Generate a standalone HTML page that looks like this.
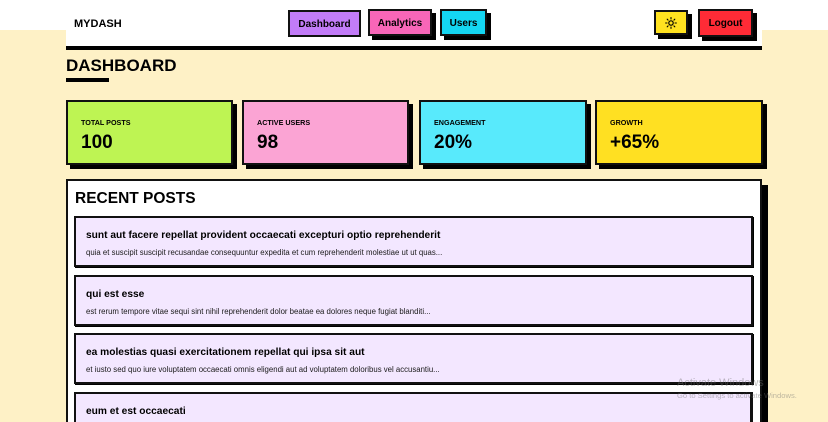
<!DOCTYPE html>
<html>
<head>
<meta charset="utf-8">
<style>
  html,body{margin:0;padding:0;width:828px;height:422px;overflow:hidden;}
  body{background:#fef1c6;font-family:"Liberation Sans",sans-serif;color:#000;}
  #wrap{position:relative;width:828px;height:422px;overflow:hidden;background:#fef1c6;}
  .abs{position:absolute;}
  .topwhite{left:0;top:0;width:828px;height:30px;background:#fff;}
  .header{left:66px;top:0;width:696px;height:46px;background:#fff;}
  .hbar{left:66px;top:46px;width:696px;height:4px;background:#000;}
  .logo{left:74px;top:14px;line-height:20px;font-size:11px;font-weight:bold;}
  .btn{position:absolute;box-sizing:border-box;border:2px solid #111;display:flex;align-items:center;justify-content:center;font-size:10px;font-weight:bold;box-shadow:4px 4px 0 #000;padding-top:1px;}
  .h1{left:66px;top:56px;line-height:20px;font-size:17px;font-weight:bold;}
  .uline{left:66px;top:78px;width:43px;height:4px;background:#000;}
  .stat{position:absolute;top:100px;height:65px;box-sizing:border-box;border:2px solid #111;box-shadow:4px 4px 0 #000;}
  .stat .lbl{position:absolute;left:13px;top:16px;line-height:10px;font-size:7.2px;font-weight:bold;}
  .stat .val{position:absolute;left:13px;top:30px;line-height:22px;font-size:19px;font-weight:bold;}
  .panel{left:66px;top:179px;width:696px;height:243px;box-sizing:border-box;border:2px solid #111;border-bottom:none;background:#fff;}
  .pshadow{left:762px;top:185px;width:6px;height:237px;background:#000;}
  .h2{left:75px;top:189px;line-height:20px;font-size:15.5px;font-weight:bold;}
  .post{position:absolute;left:74px;width:679px;height:51px;box-sizing:border-box;border:2px solid #111;background:#f3e7ff;box-shadow:1px 1px 0 #000;}
  .post .t{position:absolute;left:10px;top:8px;line-height:20px;font-size:10.2px;font-weight:bold;white-space:nowrap;}
  .post .b{position:absolute;left:10px;top:29px;line-height:12px;font-size:7.8px;color:#1a1a1a;white-space:nowrap;}
  .wm1{left:677px;top:376px;line-height:14px;font-size:11px;color:rgba(110,110,110,0.45);white-space:nowrap;}
  .wm2{left:677px;top:391px;line-height:10px;font-size:7.6px;color:rgba(110,110,110,0.45);white-space:nowrap;}
</style>
</head>
<body>
<div id="wrap">
  <div class="abs topwhite"></div>
  <div class="abs header"></div>
  <div class="abs hbar"></div>
  <div class="abs logo">MYDASH</div>

  <div class="btn" style="left:288px;top:10px;width:73px;height:27px;background:#c27cf8;box-shadow:none;">Dashboard</div>
  <div class="btn" style="left:368px;top:9px;width:64px;height:27px;background:#f866b8;">Analytics</div>
  <div class="btn" style="left:440px;top:9px;width:47px;height:27px;background:#14d6f2;">Users</div>
  <div class="btn" style="left:654px;top:10px;width:34px;height:25px;background:#ffe220;padding-top:0;">
    <svg width="12" height="12" viewBox="0 0 12 12">
      <circle cx="6" cy="6" r="2.2" fill="none" stroke="#000" stroke-width="1.2"/>
      <g stroke="#000" stroke-width="1.1" stroke-linecap="round">
        <line x1="6" y1="0.6" x2="6" y2="2"/>
        <line x1="6" y1="10" x2="6" y2="11.4"/>
        <line x1="0.6" y1="6" x2="2" y2="6"/>
        <line x1="10" y1="6" x2="11.4" y2="6"/>
        <line x1="2.2" y1="2.2" x2="3.1" y2="3.1"/>
        <line x1="8.9" y1="8.9" x2="9.8" y2="9.8"/>
        <line x1="2.2" y1="9.8" x2="3.1" y2="8.9"/>
        <line x1="8.9" y1="3.1" x2="9.8" y2="2.2"/>
      </g>
    </svg>
  </div>
  <div class="btn" style="left:698px;top:9px;width:55px;height:28px;background:#ff2b36;">Logout</div>

  <div class="abs h1">DASHBOARD</div>
  <div class="abs uline"></div>

  <div class="stat" style="left:66px;width:167px;background:#bef453;">
    <div class="lbl">TOTAL POSTS</div>
    <div class="val">100</div>
  </div>
  <div class="stat" style="left:242px;width:167px;background:#fba4d4;">
    <div class="lbl">ACTIVE USERS</div>
    <div class="val">98</div>
  </div>
  <div class="stat" style="left:419px;width:168px;background:#58eafc;">
    <div class="lbl">ENGAGEMENT</div>
    <div class="val">20%</div>
  </div>
  <div class="stat" style="left:595px;width:168px;background:#ffe022;">
    <div class="lbl">GROWTH</div>
    <div class="val">+65%</div>
  </div>

  <div class="abs panel"></div>
  <div class="abs pshadow"></div>
  <div class="abs h2">RECENT POSTS</div>

  <div class="post" style="top:216px;">
    <div class="t">sunt aut facere repellat provident occaecati excepturi optio reprehenderit</div>
    <div class="b">quia et suscipit suscipit recusandae consequuntur expedita et cum reprehenderit molestiae ut ut quas...</div>
  </div>
  <div class="post" style="top:274.5px;">
    <div class="t">qui est esse</div>
    <div class="b">est rerum tempore vitae sequi sint nihil reprehenderit dolor beatae ea dolores neque fugiat blanditi...</div>
  </div>
  <div class="post" style="top:333px;">
    <div class="t">ea molestias quasi exercitationem repellat qui ipsa sit aut</div>
    <div class="b">et iusto sed quo iure voluptatem occaecati omnis eligendi aut ad voluptatem doloribus vel accusantiu...</div>
  </div>
  <div class="post" style="top:391.5px;height:30.5px;border-bottom:none;box-shadow:none;border-right-width:3px;">
    <div class="t">eum et est occaecati</div>
  </div>

  <div class="abs wm1">Activate Windows</div>
  <div class="abs wm2">Go to Settings to activate Windows.</div>
</div>
</body>
</html>
